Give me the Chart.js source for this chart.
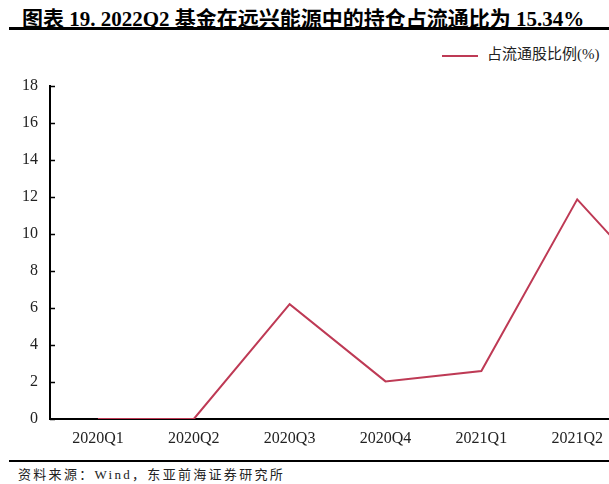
<!DOCTYPE html>
<html>
<head>
<meta charset="utf-8">
<script src="https://cdn.jsdelivr.net/npm/chart.js@4.4.1/dist/chart.umd.min.js"></script>
<style>
  body { margin: 0; width: 609px; height: 484px; overflow: hidden; background: #fff; position: relative; }
  #title { position: absolute; left: 22px; top: 2px; font: bold 21px "Liberation Serif", "Noto Sans CJK SC"; letter-spacing: 0px; white-space: nowrap; color: #000; }
  #rule1 { position: absolute; left: 9px; top: 27px; width: 600px; height: 3px; background: #000; }
  #legend { position: absolute; left: 442px; top: 42px; font: 15px "Liberation Serif", "Noto Sans CJK SC"; color: #222; white-space: nowrap; }
  #legend span.ln { display: inline-block; width: 36px; height: 2px; background: #BE3A55; vertical-align: middle; margin-right: 9px; }
  #wrap { position: absolute; left: 0; top: 64px; width: 725px; height: 391px; }
  #rule2 { position: absolute; left: 9px; top: 460px; width: 600px; height: 2px; background: #000; }
  #source { position: absolute; left: 18px; top: 464px; font: 13px "Liberation Serif", "Noto Sans CJK SC"; letter-spacing: 2.3px; color: #222; white-space: nowrap; }
</style>
</head>
<body>
<div id="title">图表 19. 2022Q2 基金在远兴能源中的持仓占流通比为 15.34%</div>
<div id="rule1"></div>
<div id="legend"><span class="ln"></span>占流通股比例(%)</div>
<div id="wrap"><canvas id="chart"></canvas></div>
<div id="rule2"></div>
<div id="source">资料来源：Wind，东亚前海证券研究所</div>
<script>
// data (last quarter is cut off at the right edge)
const quarters = ["2020Q1", "2020Q2", "2020Q3", "2020Q4", "2021Q1", "2021Q2", "2021Q3"];
const floatShare = [0, 0, 6.2, 2.03, 2.59, 11.86, 6.2];
const seriesName = "占流通股比例(%)";

const serif = "'Liberation Serif', 'Noto Sans CJK SC'";

// small tick marks pointing into the plot, like the original
const innerTicks = {
  id: "innerTicks",
  afterDraw(chart) {
    const y = chart.scales.y;
    const ctx = chart.ctx;
    ctx.save();
    ctx.strokeStyle = "#000";
    ctx.lineWidth = 1.5;
    y.ticks.forEach((t) => {
      const py = Math.round(y.getPixelForValue(t.value)) + 0.5;
      ctx.beginPath();
      ctx.moveTo(y.right, py);
      ctx.lineTo(y.right + 5, py);
      ctx.stroke();
    });
    ctx.restore();
  },
};

new Chart(document.getElementById("chart"), {
  type: "line",
  data: {
    labels: quarters,
    datasets: [
      {
        label: seriesName,
        data: floatShare,
        borderColor: "#BE3A55",
        backgroundColor: "#BE3A55",
        borderWidth: 2,
        pointRadius: 0,
        tension: 0,
      },
    ],
  },
  options: {
    responsive: true,
    maintainAspectRatio: false,
    animation: false,
    layout: { padding: { top: 9, right: 4, left: 0, bottom: 0 } },
    plugins: { legend: { display: false }, tooltip: { enabled: false } },
    scales: {
      x: {
        offset: true,
        grid: { display: false, drawTicks: false },
        border: { display: true, color: "#000", width: 2 },
        ticks: { color: "#222", font: { family: serif, size: 16 }, padding: 10, maxRotation: 0 },
        afterFit: (s) => { s.height = 36; },
      },
      y: {
        min: 0,
        max: 18,
        grid: { display: false, drawTicks: false },
        border: { display: true, color: "#000", width: 2 },
        ticks: { stepSize: 2, color: "#222", font: { family: serif, size: 16 }, padding: 12 },
        afterFit: (s) => { s.width = 50; },
      },
    },
  },
  plugins: [innerTicks],
});
</script>
</body>
</html>
